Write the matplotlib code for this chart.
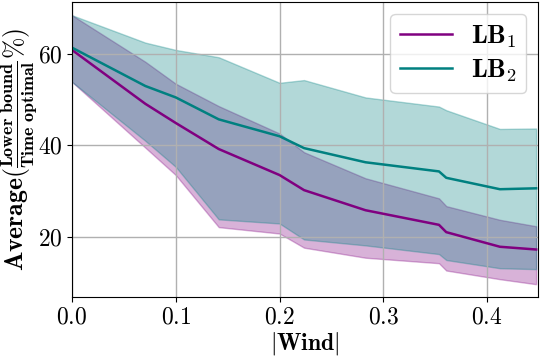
import matplotlib
matplotlib.use("Agg")
import matplotlib.pyplot as plt

plt.rcParams['font.family'] = 'serif'
plt.rcParams['font.serif'] = ['cmr10']
plt.rcParams['mathtext.fontset'] = 'cm'
plt.rcParams['axes.formatter.use_mathtext'] = True

wind = [0.0, 0.0707, 0.1, 0.1414, 0.2, 0.2236, 0.2828, 0.3536, 0.3606, 0.4123, 0.4472]

lb1_mean = [60.9, 49.1, 44.9, 39.2, 33.5, 30.2, 25.8, 22.6, 21.0, 17.8, 17.2]
lb1_low = [53.9, 39.5, 33.5, 22.1, 20.7, 17.6, 15.4, 14.2, 12.6, 10.7, 9.6]
lb1_high = [68.5, 58.3, 53.5, 48.6, 42.6, 38.5, 32.8, 28.4, 26.7, 23.7, 22.3]

lb2_mean = [61.4, 53.0, 50.5, 45.7, 42.0, 39.4, 36.3, 34.3, 32.9, 30.4, 30.6]
lb2_low = [53.9, 41.0, 35.3, 23.8, 22.9, 19.4, 18.1, 16.2, 14.9, 13.1, 12.9]
lb2_high = [68.5, 62.5, 60.9, 59.3, 53.7, 54.3, 50.5, 48.5, 47.7, 43.6, 43.7]

c1 = '#800080'
c2 = '#008080'

fig = plt.figure(figsize=(5.4, 3.6), dpi=100)
ax = fig.add_axes([0.1333, 0.175, 0.863, 0.8195])

ax.fill_between(wind, lb1_low, lb1_high, color=c1, alpha=0.3)
ax.fill_between(wind, lb2_low, lb2_high, color=c2, alpha=0.3)
ax.plot(wind, lb1_mean, color=c1, lw=1.8, label=r'$\mathbf{LB_1}$')
ax.plot(wind, lb2_mean, color=c2, lw=1.8, label=r'$\mathbf{LB_2}$')

ax.set_xlim(0, 0.449)
ax.set_ylim(6.8, 71.4)
ax.set_xticks([0.0, 0.1, 0.2, 0.3, 0.4])
ax.set_yticks([20, 40, 60])
ax.tick_params(labelsize=17)
ax.grid(True, color='#b0b0b0', lw=1)

ax.set_xlabel(r'$|\mathbf{Wind}|$', fontsize=17, labelpad=0.5)
ax.set_ylabel(r'$\mathbf{Average}(\frac{\mathbf{Lower\ bound}}{\mathbf{Time\ optimal}}\%)$',
              fontsize=18.5, labelpad=-1)

ax.legend(loc='upper right', fontsize=19, handlelength=2.0, handletextpad=0.7,
          labelspacing=0.3, borderpad=0.35, borderaxespad=0.45, framealpha=0.8)

fig.savefig('out.png', dpi=100)
